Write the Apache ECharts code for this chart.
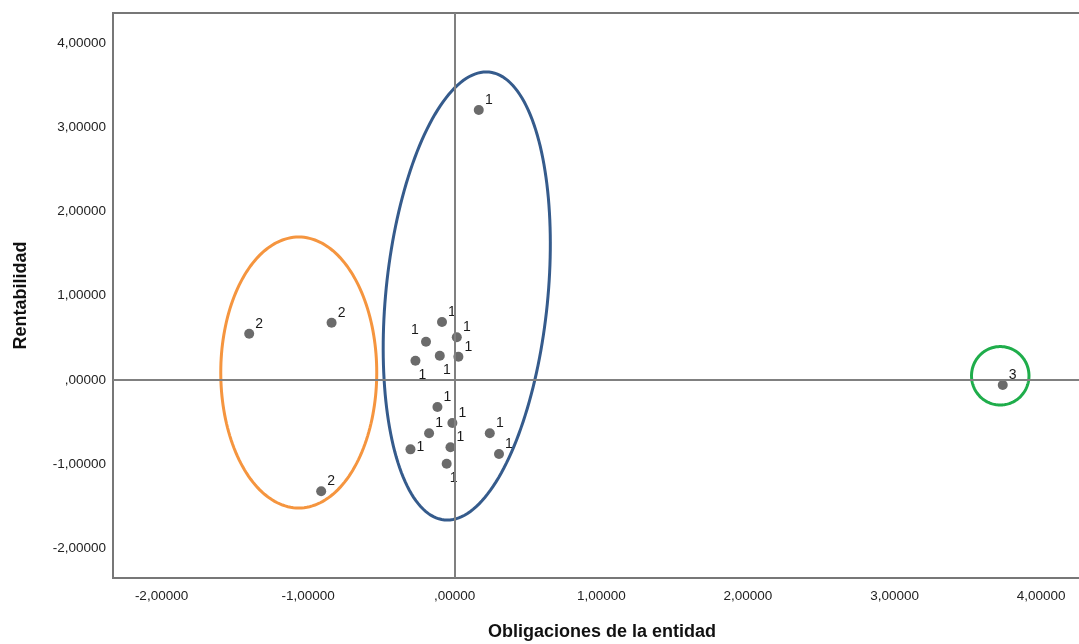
<!DOCTYPE html>
<html>
<head>
<meta charset="utf-8">
<title>Conglomerados</title>
<script src="https://cdn.jsdelivr.net/npm/echarts@6/dist/echarts.min.js"></script>
<style>
  html, body { margin: 0; padding: 0; background: #fff; }
  #main { width: 1079px; height: 644px; }
</style>
</head>
<body>
<div id="main"></div>
<script>
// valores
var obligaciones = [0.164, -0.087, -0.196, 0.014, -0.268, -0.102, 0.025, -0.118, -0.016, -0.175, -0.302, -0.029, -0.055, 0.239, 0.302,
                    -1.402, -0.840, -0.911,
                    3.738];
var rentabilidad = [3.205, 0.688, 0.455, 0.507, 0.229, 0.288, 0.277, -0.320, -0.510, -0.633, -0.823, -0.799, -0.993, -0.633, -0.878,
                    0.550, 0.680, -1.321,
                    -0.059];
var conglomerado = [1, 1, 1, 1, 1, 1, 1, 1, 1, 1, 1, 1, 1, 1, 1,
                    2, 2, 2,
                    3];
// donde va la etiqueta de cada punto
var labelSpot = ['ur', 'ur', 'ul', 'ur', 'lr', 'lr', 'ur', 'ur', 'ur', 'ur', 'r', 'ur', 'lr', 'ur', 'ur',
                 'ur', 'ur', 'ur',
                 'ur'];
var xTicks = [-2, -1, 0, 1, 2, 3, 4];
var yTicks = [-2, -1, 0, 1, 2, 3, 4];

// elipses que marcan los grupos: centro x, centro y, semieje x, semieje y, giro (grados)
var elipses = [
    [-1.064, 0.089, 0.532, 1.608, 0],
    [0.082, 0.997, 0.552, 2.671, 5.7],
    [3.721, 0.050, 0.196, 0.347, 0]
];
var elipseColores = ['#f5953f', '#355b8c', '#1fad4b'];

var offsets = {
    ur: [10, -10],
    ul: [-11, -12],
    lr: [7, 14],
    r: [10, -2]
};

function fmt(v) {
    var s = Math.abs(v).toFixed(5).replace('.', ',');
    if (s.charAt(0) === '0') s = s.slice(1);
    return (v < 0 ? '-' : '') + s;
}

var puntos = obligaciones.map(function (x, i) {
    return {
        value: [x, rentabilidad[i]],
        label: { offset: offsets[labelSpot[i]] },
        name: String(conglomerado[i])
    };
});

var myChart = echarts.init(document.getElementById('main'));

var option = {
    backgroundColor: '#fff',
    animation: false,
    textStyle: { fontFamily: 'Liberation Sans, Arial, sans-serif' },
    grid: {
        left: 113,
        top: 13,
        width: 978,
        height: 565,
        containLabel: false,
        outerBoundsMode: 'none',
        show: true,
        borderColor: '#777',
        borderWidth: 2
    },
    xAxis: {
        type: 'value',
        min: -2.331,
        max: 4.34,
        name: 'Obligaciones de la entidad',
        nameLocation: 'middle',
        nameGap: 45,
        nameTextStyle: { fontSize: 18, fontWeight: 'bold', color: '#111' },
        axisLine: { show: false },
        axisTick: { show: false },
        splitLine: { show: false },
        axisLabel: {
            customValues: xTicks,
            formatter: fmt,
            fontSize: 13.5,
            color: '#222',
            margin: 11
        }
    },
    yAxis: {
        type: 'value',
        min: -2.35,
        max: 4.356,
        name: 'Rentabilidad',
        nameLocation: 'middle',
        nameGap: 83,
        nameTextStyle: { fontSize: 18, fontWeight: 'bold', color: '#111' },
        axisLine: { show: false },
        axisTick: { show: false },
        splitLine: { show: false },
        axisLabel: {
            customValues: yTicks,
            formatter: fmt,
            fontSize: 13.5,
            color: '#222',
            margin: 7
        }
    },
    series: [
        {
            type: 'scatter',
            data: puntos,
            symbolSize: 10,
            itemStyle: { color: '#6b6b6b', opacity: 1 },
            label: {
                show: true,
                position: 'inside',
                formatter: '{b}',
                fontSize: 14,
                color: '#1a1a1a'
            },
            markLine: {
                silent: true,
                symbol: 'none',
                label: { show: false },
                lineStyle: { color: '#808080', width: 2, type: 'solid' },
                data: [{ xAxis: 0 }, { yAxis: 0 }]
            },
            z: 3
        },
        {
            type: 'custom',
            data: elipses,
            silent: true,
            z: 4,
            renderItem: function (params, api) {
                var c = api.coord([api.value(0), api.value(1)]);
                var rx = api.size([api.value(2), 0])[0];
                var ry = api.size([0, api.value(3)])[1];
                var t = api.value(4) * Math.PI / 180;
                var pts = [];
                for (var k = 0; k < 180; k++) {
                    var a = k / 180 * Math.PI * 2;
                    var lx = rx * Math.cos(a), ly = ry * Math.sin(a);
                    pts.push([c[0] + lx * Math.cos(t) - ly * Math.sin(t),
                              c[1] + lx * Math.sin(t) + ly * Math.cos(t)]);
                }
                return {
                    type: 'polygon',
                    shape: { points: pts },
                    style: {
                        fill: 'none',
                        stroke: elipseColores[params.dataIndex],
                        lineWidth: 3
                    }
                };
            }
        }
    ]
};

myChart.setOption(option);
</script>
</body>
</html>
